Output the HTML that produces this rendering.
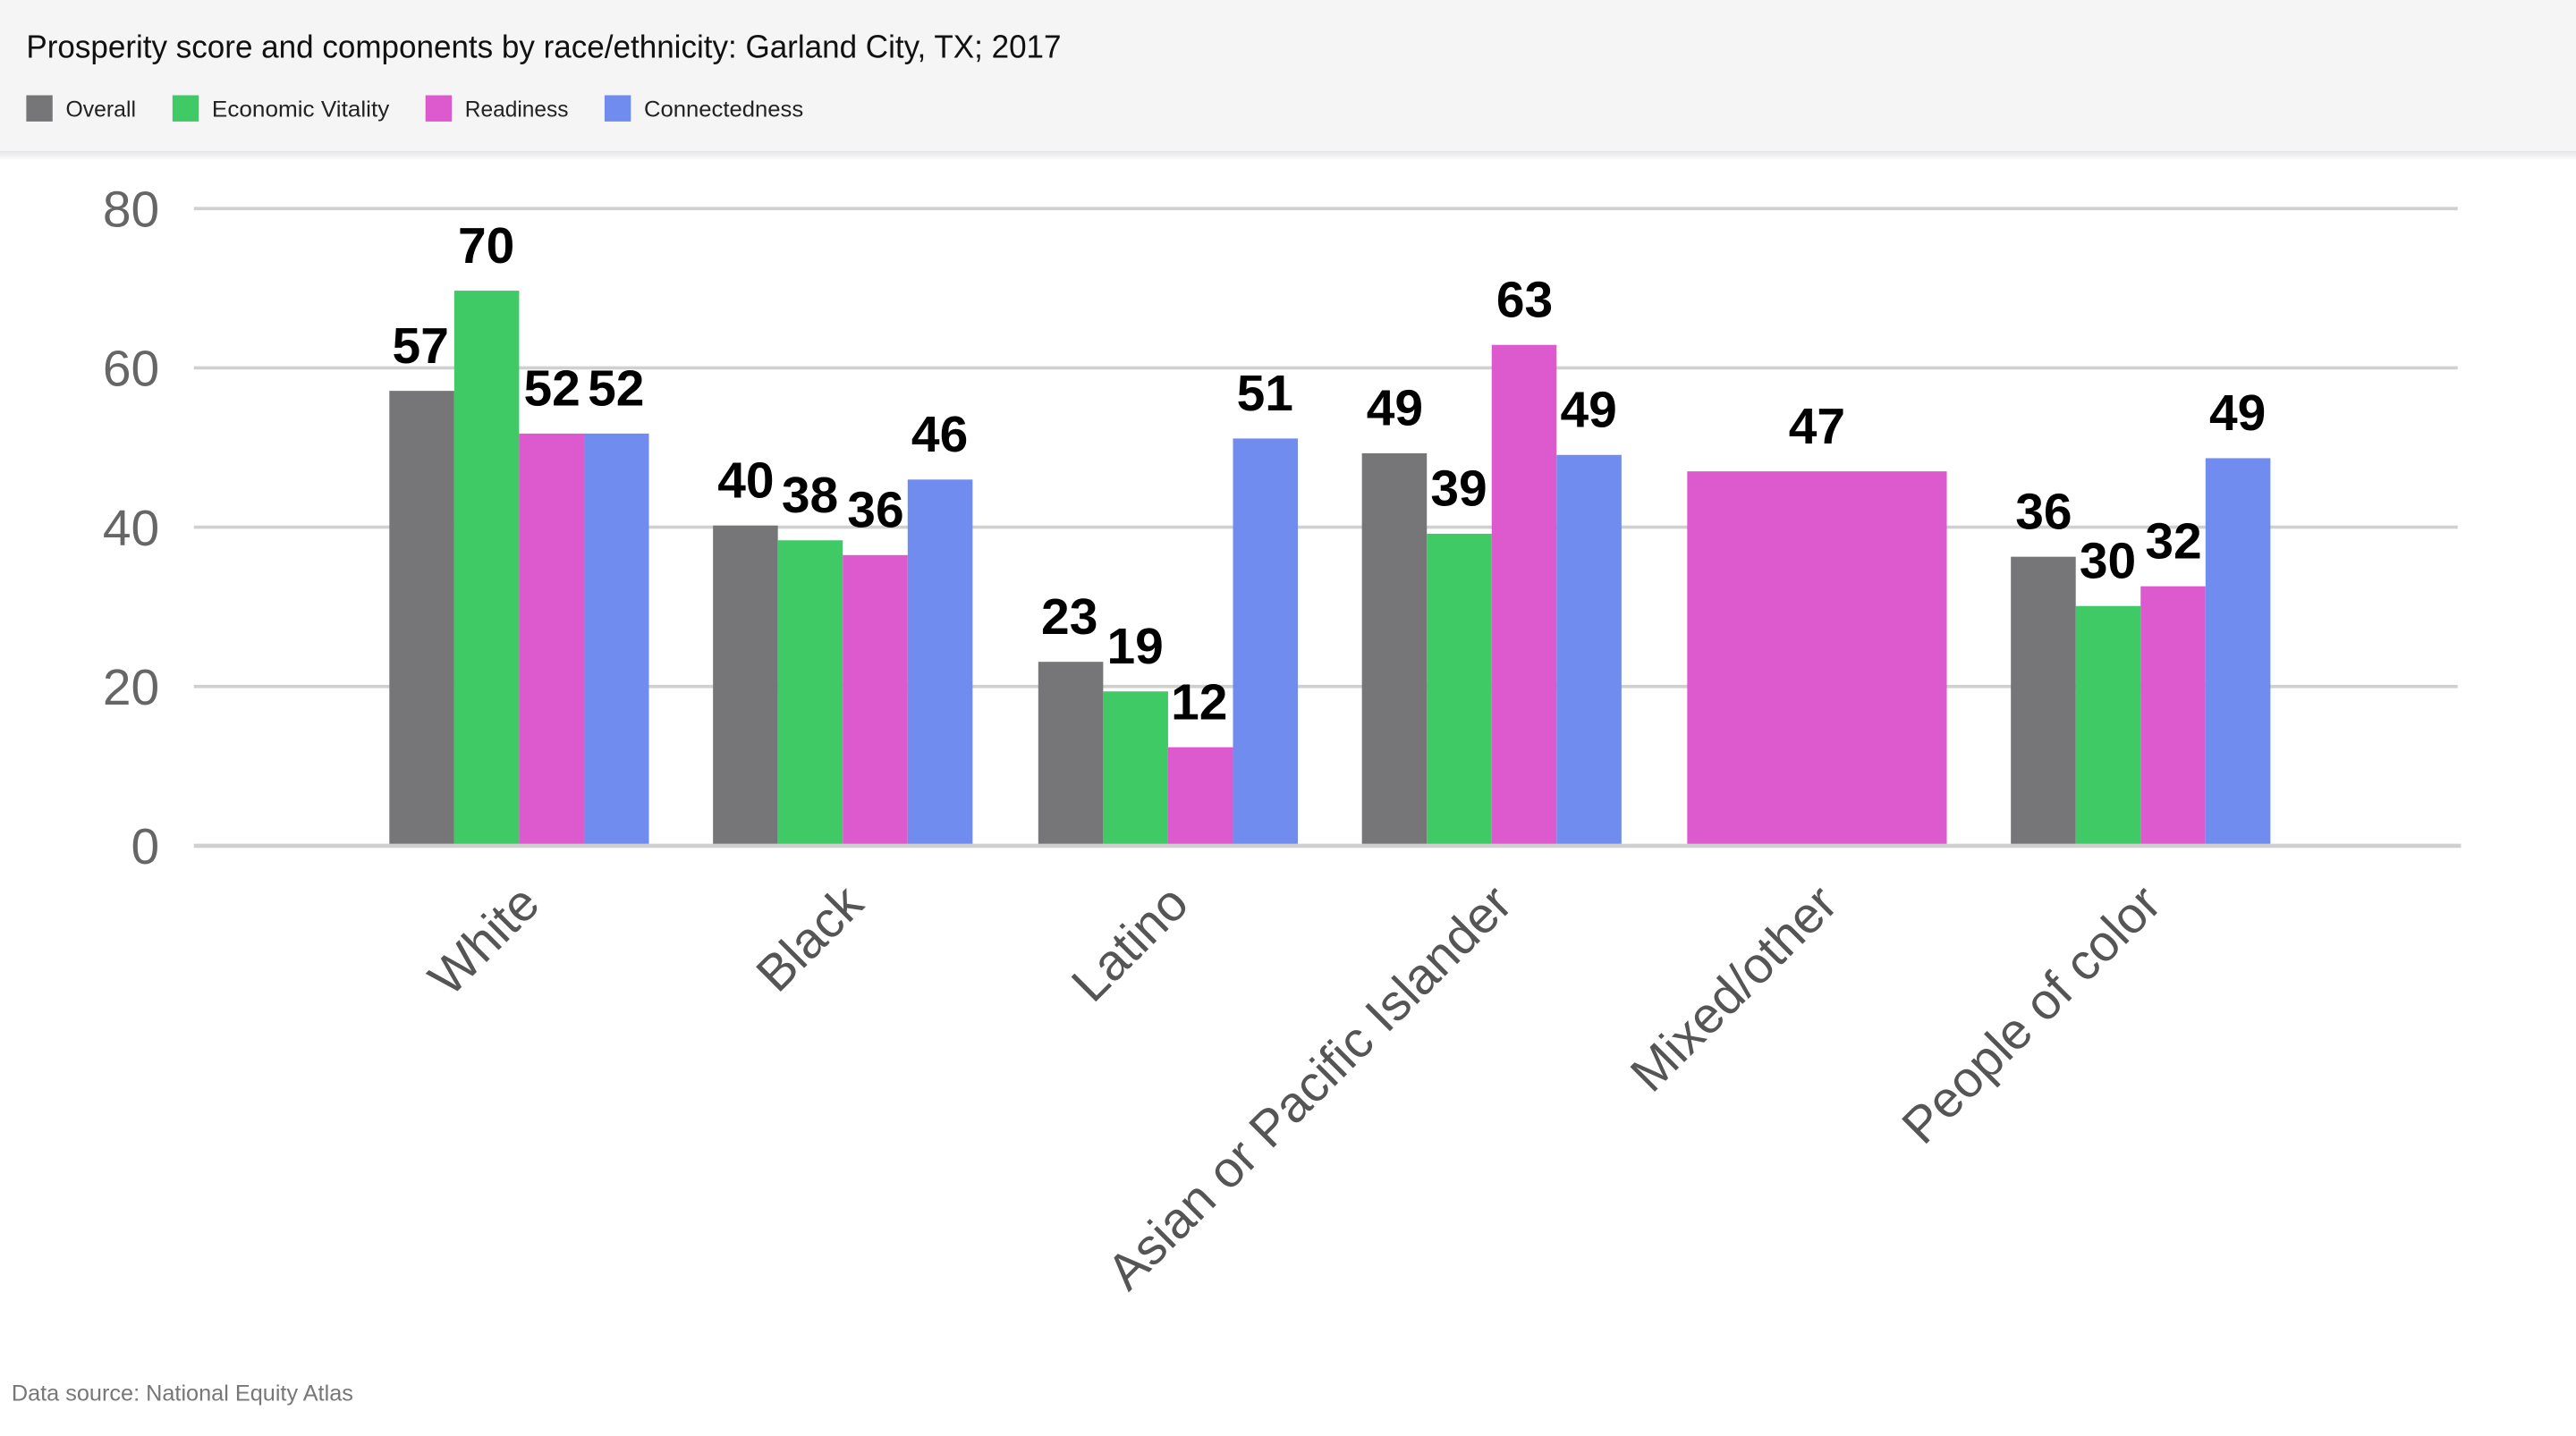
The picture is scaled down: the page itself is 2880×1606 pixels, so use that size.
<!DOCTYPE html>
<html><head><meta charset="utf-8"><style>html,body{margin:0;padding:0;background:#fff}svg{display:block}</style></head>
<body>
<svg width="2880" height="1606" viewBox="0 0 1568 874.4" preserveAspectRatio="none" xmlns="http://www.w3.org/2000/svg" font-family="Liberation Sans, sans-serif">
<defs><linearGradient id="sh" x1="0" y1="0" x2="0" y2="1"><stop offset="0" stop-color="#e6e6e8"/><stop offset="1" stop-color="#fff"/></linearGradient></defs>
<rect x="0" y="0" width="1568" height="92" fill="#f5f5f6"/>
<rect x="0" y="92" width="1568" height="6" fill="url(#sh)"/>
<text x="16" y="35" font-size="19.5" fill="#111" textLength="630" lengthAdjust="spacingAndGlyphs">Prosperity score and components by race/ethnicity: Garland City, TX; 2017</text>
<g font-size="13.5" fill="#222">
<rect x="16" y="58" width="16" height="16" fill="#767678"/><text x="40" y="71">Overall</text>
<rect x="105" y="58" width="16" height="16" fill="#3fca66"/><text x="129" y="71" textLength="108" lengthAdjust="spacingAndGlyphs">Economic Vitality</text>
<rect x="259" y="58" width="16" height="16" fill="#dd5ace"/><text x="283" y="71" textLength="63" lengthAdjust="spacingAndGlyphs">Readiness</text>
<rect x="368" y="58" width="16" height="16" fill="#718cef"/><text x="392" y="71" textLength="97" lengthAdjust="spacingAndGlyphs">Connectedness</text>
</g>
<g stroke="#d0d0d0" stroke-width="2">
<line x1="118" y1="127" x2="1496" y2="127"/><line x1="118" y1="224" x2="1496" y2="224"/><line x1="118" y1="321" x2="1496" y2="321"/><line x1="118" y1="418" x2="1496" y2="418"/>
</g>
<g font-size="31" fill="#666" text-anchor="end">
<text x="97" y="138">80</text><text x="97" y="235">60</text><text x="97" y="332">40</text><text x="97" y="429">20</text><text x="97" y="526">0</text>
</g>
<g>
<rect x="237" y="238" width="39.5" height="277" fill="#767678"/><rect x="276.5" y="177" width="39.5" height="338" fill="#3fca66"/><rect x="316" y="264" width="39.5" height="251" fill="#dd5ace"/><rect x="355.5" y="264" width="39.5" height="251" fill="#718cef"/>
<rect x="434" y="320" width="39.5" height="195" fill="#767678"/><rect x="473.5" y="329" width="39.5" height="186" fill="#3fca66"/><rect x="513" y="338" width="39.5" height="177" fill="#dd5ace"/><rect x="552.5" y="292" width="39.5" height="223" fill="#718cef"/>
<rect x="632" y="403" width="39.5" height="112" fill="#767678"/><rect x="671.5" y="421" width="39.5" height="94" fill="#3fca66"/><rect x="711" y="455" width="39.5" height="60" fill="#dd5ace"/><rect x="750.5" y="267" width="39.5" height="248" fill="#718cef"/>
<rect x="829" y="276" width="39.5" height="239" fill="#767678"/><rect x="868.5" y="325" width="39.5" height="190" fill="#3fca66"/><rect x="908" y="210" width="39.5" height="305" fill="#dd5ace"/><rect x="947.5" y="277" width="39.5" height="238" fill="#718cef"/>
<rect x="1027" y="287" width="158" height="228" fill="#dd5ace"/>
<rect x="1224" y="339" width="39.5" height="176" fill="#767678"/><rect x="1263.5" y="369" width="39.5" height="146" fill="#3fca66"/><rect x="1303" y="357" width="39.5" height="158" fill="#dd5ace"/><rect x="1342.5" y="279" width="39.5" height="236" fill="#718cef"/>
</g>
<line x1="118" y1="515" x2="1498" y2="515" stroke="#d0d0d0" stroke-width="2.5"/>
<g font-size="31" font-weight="bold" fill="#000" text-anchor="middle">
<text x="256" y="221">57</text><text x="296" y="160">70</text><text x="336" y="247">52</text><text x="375" y="247">52</text>
<text x="454" y="303">40</text><text x="493" y="312">38</text><text x="533" y="321">36</text><text x="572" y="275">46</text>
<text x="651" y="386">23</text><text x="691" y="404">19</text><text x="730" y="438">12</text><text x="770" y="250">51</text>
<text x="849" y="259">49</text><text x="888" y="308">39</text><text x="928" y="193">63</text><text x="967" y="260">49</text>
<text x="1106" y="270">47</text>
<text x="1244" y="322">36</text><text x="1283" y="352">30</text><text x="1323" y="340">32</text><text x="1362" y="262">49</text>
</g>
<g font-size="31" fill="#555" text-anchor="end">
<text transform="translate(330,552) rotate(-45)">White</text>
<text transform="translate(527,552) rotate(-45)">Black</text>
<text transform="translate(725,552) rotate(-45)">Latino</text>
<text transform="translate(922,552) rotate(-45)">Asian or Pacific Islander</text>
<text transform="translate(1120,552) rotate(-45)">Mixed/other</text>
<text transform="translate(1317,552) rotate(-45)">People of color</text>
</g>
<text x="7" y="853" font-size="13.5" fill="#777" textLength="208" lengthAdjust="spacingAndGlyphs">Data source: National Equity Atlas</text>
</svg>
</body></html>
